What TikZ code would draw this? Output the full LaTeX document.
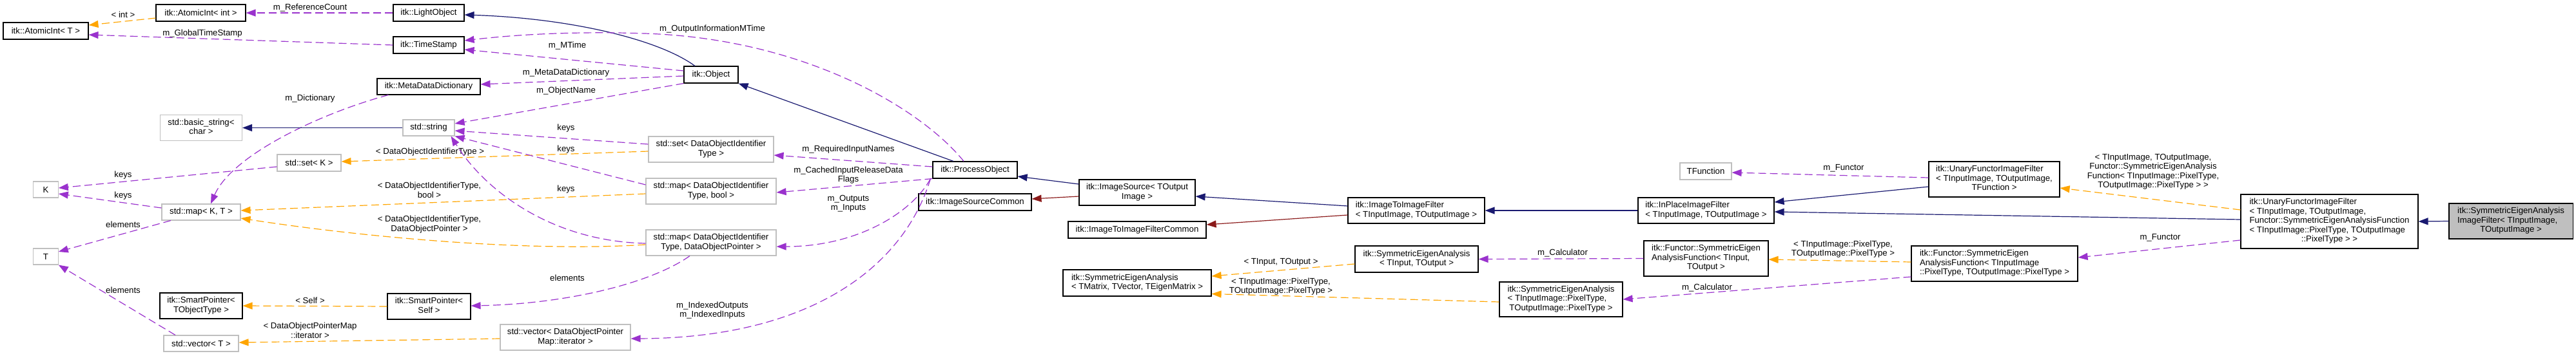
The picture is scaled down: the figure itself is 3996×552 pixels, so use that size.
\documentclass[tikz,border=0pt]{standalone}
\usepackage{fontspec}
\setmainfont{Liberation Sans}
\usetikzlibrary{arrows.meta}
\definecolor{purp}{HTML}{9A32CD}
\definecolor{orng}{HTML}{FFA500}
\definecolor{navyb}{HTML}{191970}
\definecolor{fbrick}{HTML}{8B1A1A}
\definecolor{gry}{HTML}{BFBFBF}
\newcommand{\dxf}{\fontsize{13.2}{14.5}\selectfont}
\newcommand{\dxml}[2]{\begin{tabular}{@{}l@{}}#1\\\multicolumn{1}{@{}c@{}}{#2}\end{tabular}}
\tikzset{
  clsbox/.style={draw=black, line width=1.1pt, fill=white, inner sep=1pt, font=\dxf, text=black},
  extbox/.style={clsbox, draw=gry},
  rootbox/.style={clsbox, fill=gry},
  elbl/.style={font=\dxf, align=center, inner sep=0pt, text=black},
  edash/.style={dash pattern=on 12pt off 6pt, line width=1.2pt},
  eusage/.style={edash, draw=purp, -{Triangle[length=15pt,width=11pt]}},
  etempl/.style={edash, draw=orng, -{Triangle[length=15pt,width=11pt]}},
  einh/.style={draw=navyb, line width=1.2pt, -{Triangle[length=15pt,width=11pt]}},
  eprot/.style={draw=fbrick, line width=1.2pt, -{Triangle[length=15pt,width=11pt]}},
}
\begin{document}
\begin{tikzpicture}[x=1pt,y=-1pt]
\useasboundingbox (0,0) rectangle (3996,552);
% nodes
\node[clsbox, minimum width=132pt, minimum height=26pt] (aint) at (71,48) {itk::AtomicInt< T >};
\node[clsbox, minimum width=139pt, minimum height=26pt] (aint2) at (311.5,20) {itk::AtomicInt< int >};
\node[clsbox, minimum width=110pt, minimum height=26pt] (light) at (665,20) {itk::LightObject};
\node[clsbox, minimum width=110pt, minimum height=26pt] (tstamp) at (665,70) {itk::TimeStamp};
\node[clsbox, minimum width=160pt, minimum height=25pt] (mdd) at (665,134.5) {itk::MetaDataDictionary};
\node[extbox, minimum width=127pt, minimum height=40pt] (bstr) at (312,198.5) {\dxml{std::basic\_string<}{char >}};
\node[extbox, minimum width=80pt, minimum height=25pt] (str) at (665,198.5) {std::string};
\node[extbox, minimum width=99pt, minimum height=26pt] (setk) at (479.5,253) {std::set< K >};
\node[extbox, minimum width=38.5pt, minimum height=25pt] (kk) at (71,294.5) {K};
\node[extbox, minimum width=122pt, minimum height=25pt] (mapkt) at (312,329.5) {std::map< K, T >};
\node[extbox, minimum width=38.5pt, minimum height=25pt] (tt) at (71,398.5) {T};
\node[clsbox, minimum width=128pt, minimum height=40pt] (spt) at (312,475) {\dxml{itk::SmartPointer<}{TObjectType >}};
\node[clsbox, minimum width=129pt, minimum height=40pt] (sps) at (665.5,476) {\dxml{itk::SmartPointer<}{Self >}};
\node[extbox, minimum width=116pt, minimum height=25pt] (vect) at (312,533.5) {std::vector< T >};
\node[clsbox, minimum width=84pt, minimum height=26pt] (obj) at (1103,116) {itk::Object};
\node[extbox, minimum width=194pt, minimum height=40pt] (setdoit) at (1103,232) {\dxml{std::set< DataObjectIdentifier}{Type >}};
\node[extbox, minimum width=202pt, minimum height=40pt] (mapbool) at (1103,297) {\dxml{std::map< DataObjectIdentifier}{Type, bool >}};
\node[extbox, minimum width=202pt, minimum height=40pt] (mapptr) at (1103,377) {\dxml{std::map< DataObjectIdentifier}{Type, DataObjectPointer >}};
\node[extbox, minimum width=202pt, minimum height=40pt] (vecit) at (877,524) {\dxml{std::vector< DataObjectPointer}{Map::iterator >}};
\node[clsbox, minimum width=131pt, minimum height=26pt] (proc) at (1512.5,264) {itk::ProcessObject};
\node[clsbox, minimum width=175pt, minimum height=26pt] (isc) at (1512.5,314) {itk::ImageSourceCommon};
\node[clsbox, minimum width=180pt, minimum height=40pt] (isrc) at (1764,299) {\dxml{itk::ImageSource< TOutput}{Image >}};
\node[clsbox, minimum width=214pt, minimum height=26pt] (itifc) at (1764,357) {itk::ImageToImageFilterCommon};
\node[clsbox, minimum width=230pt, minimum height=41pt] (seatm) at (1764,439.5) {\dxml{itk::SymmetricEigenAnalysis}{< TMatrix, TVector, TEigenMatrix >}};
\node[clsbox, minimum width=212pt, minimum height=40pt] (itif) at (2197,327) {\dxml{itk::ImageToImageFilter}{< TInputImage, TOutputImage >}};
\node[clsbox, minimum width=191pt, minimum height=41pt] (seat) at (2197.5,402.5) {\dxml{itk::SymmetricEigenAnalysis}{< TInput, TOutput >}};
\node[clsbox, minimum width=191pt, minimum height=54pt] (seap) at (2421.5,465) {\dxml{itk::SymmetricEigenAnalysis\\< TInputImage::PixelType,}{TOutputImage::PixelType >}};
\node[extbox, minimum width=80pt, minimum height=26pt] (tfunc) at (2646,266) {TFunction};
\node[clsbox, minimum width=211pt, minimum height=40pt] (ipif) at (2646.5,327) {\dxml{itk::InPlaceImageFilter}{< TInputImage, TOutputImage >}};
\node[clsbox, minimum width=193pt, minimum height=55pt] (seaft) at (2646.5,401.5) {\dxml{itk::Functor::SymmetricEigen\\AnalysisFunction< TInput,}{TOutput >}};
\node[clsbox, minimum width=203pt, minimum height=55pt] (utf) at (3093.5,278.5) {\dxml{itk::UnaryFunctorImageFilter\\< TInputImage, TOutputImage,}{TFunction >}};
\node[clsbox, minimum width=258pt, minimum height=55pt] (seafp) at (3094,409.5) {\dxml{itk::Functor::SymmetricEigen\\AnalysisFunction< TInputImage}{::PixelType, TOutputImage::PixelType >}};
\node[clsbox, minimum width=275pt, minimum height=84pt] (useaf) at (3613.5,344) {\dxml{itk::UnaryFunctorImageFilter\\< TInputImage, TOutputImage,\\Functor::SymmetricEigenAnalysisFunction\\< TInputImage::PixelType, TOutputImage}{::PixelType > >}};
\node[rootbox, minimum width=192pt, minimum height=55pt] (root) at (3895,343.5) {\dxml{itk::SymmetricEigenAnalysis\\ImageFilter< TInputImage,}{TOutputImage >}};
% labels
\node[elbl] (l1) at (191,23) {< int >};
\node[elbl] (l2) at (481,12) {m\_ReferenceCount};
\node[elbl] (l3) at (314,52) {m\_GlobalTimeStamp};
\node[elbl] (l5) at (1105,45) {m\_OutputInformationMTime};
\node[elbl] (l6) at (880,71) {m\_MTime};
\node[elbl] (l7) at (878,113) {m\_MetaDataDictionary};
\node[elbl] (l8) at (878,141) {m\_ObjectName};
\node[elbl] (l10) at (481,153) {m\_Dictionary};
\node[elbl] (l12) at (191,272) {keys};
\node[elbl] (l13) at (191,304) {keys};
\node[elbl] (l14) at (191,349) {elements};
\node[elbl] (l15) at (191,451) {elements};
\node[elbl] (l16) at (667,236) {< DataObjectIdentifierType >};
\node[elbl] (l17) at (666,295.5) {< DataObjectIdentifierType,\\bool >};
\node[elbl] (l18) at (666,348.5) {< DataObjectIdentifierType,\\DataObjectPointer >};
\node[elbl] (l19) at (878,199) {keys};
\node[elbl] (l20) at (878,232) {keys};
\node[elbl] (l21) at (878,294) {keys};
\node[elbl] (l22) at (880,432) {elements};
\node[elbl] (l23) at (481,467) {< Self >};
\node[elbl] (l24) at (481,513.5) {< DataObjectPointerMap\\::iterator >};
\node[elbl] (l25) at (1316,232) {m\_RequiredInputNames};
\node[elbl] (l26) at (1316,272) {m\_CachedInputReleaseData\\Flags};
\node[elbl] (l27) at (1316,316.5) {m\_Outputs\\m\_Inputs};
\node[elbl] (l28) at (1105,482) {m\_IndexedOutputs\\m\_IndexedInputs};
\node[elbl] (l35) at (2860,261) {m\_Functor};
\node[elbl] (l36) at (3340,267) {< TInputImage, TOutputImage,\\Functor::SymmetricEigenAnalysis\\Function< TInputImage::PixelType,\\TOutputImage::PixelType > >};
\node[elbl] (l37) at (3351,369) {m\_Functor};
\node[elbl] (l38) at (2859,387) {< TInputImage::PixelType,\\TOutputImage::PixelType >};
\node[elbl] (l39) at (2648,447) {m\_Calculator};
\node[elbl] (l40) at (2424,393) {m\_Calculator};
\node[elbl] (l41) at (1987,407) {< TInput, TOutput >};
\node[elbl] (l42) at (1987,445) {< TInputImage::PixelType,\\TOutputImage::PixelType >};
% edges
\draw[etempl] ([yshift=-8pt]aint2.west) -- ([yshift=9pt]aint.east);
\draw[eusage] (light.west) -- (aint2.east);
\draw[eusage] (tstamp.west) -- ([yshift=-6pt]aint.east);
\draw[einh] ([xshift=-25pt]obj.north) .. controls (1020,60) and (880,28) .. ([yshift=-3pt]light.east);
\draw[eusage] ([xshift=-17.5pt]proc.north) .. controls (1430,170) and (1250,60) .. (1000,52) .. controls (880,48) and (790,55) .. ([yshift=7pt]tstamp.east);
\draw[eusage] ([yshift=6pt]obj.west) -- ([yshift=-7pt]tstamp.east);
\draw[eusage] ([yshift=-2pt]obj.west) -- ([yshift=3.5pt]mdd.east);
\draw[eusage] (obj.south west) -- ([yshift=6.5pt]str.east);
\draw[einh] ([xshift=-33.5pt]proc.north) -- (obj.south east);
\draw[eusage] ([xshift=18pt]mdd.south west) .. controls (500,175) and (360,240) .. ([xshift=15pt]mapkt.north);
\draw[einh] (str.west) -- (bstr.east);
\draw[eusage] ([yshift=-6pt]setk.west) -- ([yshift=2.5pt]kk.east);
\draw[eusage] ([yshift=6.5pt]mapkt.west) -- ([yshift=-6.5pt]kk.east);
\draw[eusage] ([xshift=-47pt]mapkt.south) -- ([yshift=7.5pt]tt.east);
\draw[eusage] ([xshift=-40pt]vect.north) -- (tt.south east);
\draw[etempl] ([yshift=-3pt]setdoit.west) -- ([yshift=2pt]setk.east);
\draw[etempl] ([yshift=-4pt]mapbool.west) -- ([yshift=2.5pt]mapkt.east);
\draw[etempl] ([yshift=-3pt]mapptr.west) .. controls (820,392) and (560,368) .. ([yshift=-9.5pt]mapkt.east);
\draw[eusage] ([yshift=8pt]setdoit.west) -- ([yshift=-4.5pt]str.east);
\draw[eusage] ([yshift=10pt]mapbool.west) -- (str.south east);
\draw[eusage] ([yshift=-1pt]mapptr.west) .. controls (860,375) and (755,300) .. ([xshift=-6pt]str.south east);
\draw[eusage] ([xshift=-33pt]mapptr.south) .. controls (1010,440) and (880,472) .. ([yshift=1pt]sps.east);
\draw[etempl] (sps.west) -- (spt.east);
\draw[etempl] ([yshift=-2pt]vecit.west) -- ([yshift=1.5pt]vect.east);
\draw[eusage] ([yshift=5pt]proc.west) -- ([yshift=-9pt]setdoit.east);
\draw[eusage] (proc.south west) -- ([yshift=-2pt]mapbool.east);
\draw[eusage] ([xshift=-3pt]proc.south west) .. controls (1415,330) and (1330,383) .. ([yshift=-6pt]mapptr.east);
\draw[eusage] ([xshift=-3pt]proc.south west) .. controls (1400,420) and (1250,525) .. ([yshift=-2pt]vecit.east);
\draw[einh] ([yshift=13pt]isrc.west) -- ([yshift=-10pt]proc.east);
\draw[eprot] ([yshift=-6pt]isrc.west) -- ([yshift=5pt]isc.east);
\draw[einh] ([yshift=7pt]itif.west) -- ([yshift=-6pt]isrc.east);
\draw[eprot] ([yshift=-7pt]itif.west) -- ([yshift=8pt]itifc.east);
\draw[einh] (ipif.west) -- (itif.east);
\draw[einh] ([yshift=-11.5pt]utf.west) -- ([yshift=13pt]ipif.east);
\draw[einh] ([yshift=3pt]useaf.west) -- ([yshift=-2pt]ipif.east);
\draw[eusage] ([yshift=2.5pt]utf.west) -- ([yshift=-2pt]tfunc.east);
\draw[etempl] ([yshift=18pt]useaf.west) -- ([yshift=-13.5pt]utf.east);
\draw[eusage] ([yshift=-29pt]useaf.west) -- ([yshift=9.5pt]seafp.east);
\draw[etempl] ([yshift=2.5pt]seafp.west) -- ([yshift=-1.5pt]seaft.east);
\draw[eusage] ([yshift=-20.5pt]seafp.west) -- (seap.east);
\draw[eusage] (seaft.west) -- (seat.east);
\draw[etempl] ([yshift=-7.5pt]seat.west) -- ([yshift=10.5pt]seatm.east);
\draw[etempl] ([yshift=-4pt]seap.west) -- ([yshift=-17pt]seatm.east);
\draw[einh] (root.west) -- (useaf.east);
\end{tikzpicture}
\end{document}
